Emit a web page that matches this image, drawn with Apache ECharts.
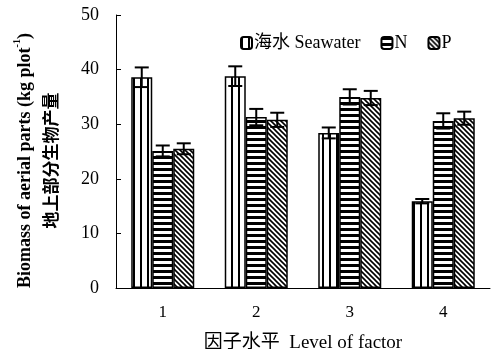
<!DOCTYPE html>
<html>
<head>
<meta charset="utf-8">
<script src="https://cdn.jsdelivr.net/npm/echarts@6/dist/echarts.min.js"></script>
<style>
  html, body { margin: 0; padding: 0; background: #fff; }
  #chart { width: 496px; height: 349px; }
</style>
</head>
<body>
<div id="chart"></div>
<script>
// data
var categories = ['1', '2', '3', '4'];
var seawater = [38.6, 38.8, 28.4, 15.9];
var seawaterErr = [1.8, 1.8, 1.0, 0.4];
var nitrogen = [25.1, 31.3, 35.0, 30.6];
var nitrogenErr = [1.0, 1.5, 1.4, 1.4];
var phosphorus = [25.5, 30.8, 34.8, 31.1];
var phosphorusErr = [1.0, 1.3, 1.3, 1.2];
var seriesNames = ['海水 Seawater', 'N', 'P'];

var BAR_W = 21;
var FONT = '"Liberation Serif", "Noto Sans CJK SC", serif';

// hatch fills
function makePattern(kind) {
    var c = document.createElement('canvas');
    var ctx = c.getContext('2d');
    if (kind === 'v') {
        c.width = 7; c.height = 4;
        ctx.fillStyle = '#fff'; ctx.fillRect(0, 0, 7, 4);
        ctx.fillStyle = '#000'; ctx.fillRect(0, 0, 2, 4);
    } else if (kind === 'h') {
        c.width = 4; c.height = 6;
        ctx.fillStyle = '#fff'; ctx.fillRect(0, 0, 4, 6);
        ctx.fillStyle = '#000'; ctx.fillRect(0, 0, 4, 3);
    } else {
        c.width = 5; c.height = 5;
        ctx.fillStyle = '#fff'; ctx.fillRect(0, 0, 5, 5);
        ctx.strokeStyle = '#000'; ctx.lineWidth = 1.6;
        ctx.beginPath();
        ctx.moveTo(-1, -1); ctx.lineTo(6, 6);
        ctx.moveTo(-1, 4); ctx.lineTo(1, 6);
        ctx.moveTo(4, -1); ctx.lineTo(6, 1);
        ctx.stroke();
    }
    return { image: c, repeat: 'repeat' };
}

function errSeries(values, errs, offset) {
    return {
        type: 'custom',
        silent: true,
        z: 5,
        data: values.map(function (v, i) { return [i, v, errs[i]]; }),
        renderItem: function (params, api) {
            var i = api.value(0), v = api.value(1), e = api.value(2);
            var x = api.coord([i, v])[0] + offset;
            var hi = api.coord([i, v + e])[1];
            var lo = api.coord([i, v - e])[1];
            var st = { stroke: '#000', lineWidth: 2 };
            return {
                type: 'group',
                children: [
                    { type: 'line', shape: { x1: x, y1: hi, x2: x, y2: lo }, style: st },
                    { type: 'line', shape: { x1: x - 7, y1: hi, x2: x + 7, y2: hi }, style: st },
                    { type: 'line', shape: { x1: x - 7, y1: lo, x2: x + 7, y2: lo }, style: st }
                ]
            };
        }
    };
}

function barSeries(name, values, kind) {
    return {
        name: name,
        type: 'bar',
        barWidth: BAR_W,
        barGap: '0%',
        data: values,
        itemStyle: {
            color: makePattern(kind),
            borderColor: '#000',
            borderWidth: 1.5
        }
    };
}

var myChart = echarts.init(document.getElementById('chart'));

var option = {
    backgroundColor: '#fff',
    animation: false,
    grid: { left: 116, right: 6, top: 15, bottom: 61, containLabel: false, outerBoundsMode: 'none' },
    legend: {
        data: seriesNames,
        top: 29,
        left: 235,
        itemWidth: 11,
        itemHeight: 12,
        itemGap: 20,
        textStyle: { fontFamily: FONT, fontSize: 18, color: '#000', padding: [0, 0, 0, -3] }
    },
    xAxis: {
        type: 'category',
        data: categories,
        axisLine: { lineStyle: { color: '#000', width: 1 } },
        axisTick: { inside: true, length: 4, lineStyle: { color: '#000' } },
        axisLabel: { fontFamily: FONT, fontSize: 17, color: '#000', margin: 16 },
        name: '因子水平  Level of factor',
        nameLocation: 'middle',
        nameGap: 46,
        nameTextStyle: { fontFamily: FONT, fontSize: 19, color: '#000' }
    },
    yAxis: {
        type: 'value',
        min: 0,
        max: 50,
        interval: 10,
        splitLine: { show: false },
        axisLine: { show: true, lineStyle: { color: '#000', width: 1 } },
        axisTick: { show: true, inside: true, length: 5, lineStyle: { color: '#000' } },
        axisLabel: { fontFamily: FONT, fontSize: 18, color: '#000', margin: 17 },
        name: '{a|Biomass of aerial parts (kg plot}{s|-1}{a|)}\n{b|地上部分生物产量}',
        nameLocation: 'middle',
        nameGap: 50,
        nameTextStyle: {
            padding: [0, 18, 0, 0],
            rich: {
                a: { fontFamily: FONT, fontSize: 18, fontWeight: 'bold', color: '#000', lineHeight: 27 },
                s: { fontFamily: FONT, fontSize: 10, fontWeight: 'bold', color: '#000', verticalAlign: 'top', lineHeight: 20 },
                b: { fontFamily: FONT, fontSize: 17, fontWeight: 'bold', color: '#000', lineHeight: 27 }
            }
        }
    },
    series: [
        barSeries(seriesNames[0], seawater, 'v'),
        barSeries(seriesNames[1], nitrogen, 'h'),
        barSeries(seriesNames[2], phosphorus, 'd'),
        errSeries(seawater, seawaterErr, -BAR_W),
        errSeries(nitrogen, nitrogenErr, 0),
        errSeries(phosphorus, phosphorusErr, BAR_W)
    ]
};

myChart.setOption(option);
</script>
</body>
</html>
